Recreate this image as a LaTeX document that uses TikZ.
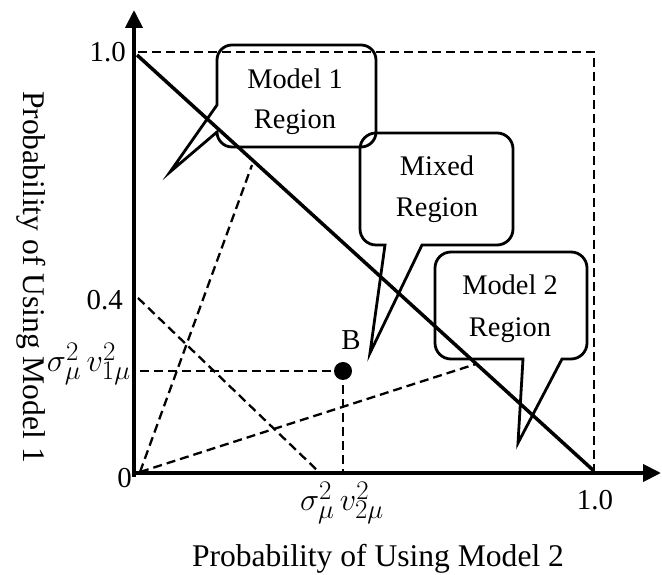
\documentclass[tikz,border=0pt]{standalone}
\usepackage{fontspec}
\setmainfont{Liberation Serif}
\usetikzlibrary{arrows.meta}
\begin{document}
\begin{tikzpicture}[x=1bp,y=1bp,
  axisline/.style={line width=4bp,-{Triangle[length=18bp,width=17bp]}},
  diagline/.style={line width=3.5bp},
  dashline/.style={line width=2.3bp,dash pattern=on 9bp off 5bp},
  bubble/.style={line width=2.8bp,line join=miter},
  ticklab/.style={font=\fontsize{29}{35}\selectfont,inner sep=0pt},
  mathlab/.style={font=\fontsize{24.88}{30}\selectfont,inner sep=0pt,scale=1.3,transform shape},
  bubtext/.style={font=\fontsize{28.5}{34}\selectfont,inner sep=0pt,anchor=base},
  axtitle/.style={font=\fontsize{31.7}{38}\selectfont,inner sep=0pt,anchor=base}]
\useasboundingbox (0,0) rectangle (662,575);

% named points
\coordinate (ybot) at (134,98);
\coordinate (ytop) at (134,565);
\coordinate (xbeg) at (132,102);
\coordinate (xend) at (661,102);
\coordinate (F0) at (140,103);
\coordinate (P1) at (252,410);
\coordinate (P2) at (476,211);
\coordinate (Q1) at (138,277);
\coordinate (Q2) at (320,102);
\coordinate (H0) at (140,204);
\coordinate (B) at (343,204);
\coordinate (Bx) at (343,102);
\coordinate (T0) at (138,523);
\coordinate (T1) at (594,523);
\coordinate (T2) at (594,102);
\coordinate (D0) at (137,520);
\coordinate (D1) at (594,104);

% dashed lines
\draw[dashline] (T0) -- (T1) -- (T2);
\draw[dashline] (F0) -- (P1);
\draw[dashline] (F0) -- (P2);
\draw[dashline] (Q1) -- (Q2);
\draw[dashline] (H0) -- (B);
\draw[dashline] (B) -- (Bx);

% bubbles
\draw[bubble] (217,470) -- (217,515) arc[start angle=180,end angle=90,radius=15]
  -- (361,530) arc[start angle=90,end angle=0,radius=15]
  -- (376,443) arc[start angle=0,end angle=-90,radius=15]
  -- (232,428) arc[start angle=270,end angle=180,radius=15]
  -- (170,403) -- cycle;
\draw[bubble] (385,330) -- (376,330) arc[start angle=270,end angle=180,radius=16]
  -- (360,426) arc[start angle=180,end angle=90,radius=16]
  -- (497,442) arc[start angle=90,end angle=0,radius=16]
  -- (513,346) arc[start angle=0,end angle=-90,radius=16]
  -- (422,330) -- (370,222) -- cycle;
\draw[bubble] (523,216) -- (451,216) arc[start angle=270,end angle=180,radius=16]
  -- (435,307) arc[start angle=180,end angle=90,radius=16]
  -- (571,323) arc[start angle=90,end angle=0,radius=16]
  -- (587,232) arc[start angle=0,end angle=-90,radius=16]
  -- (562,216) -- (518,132) -- cycle;

% diagonal and axes
\draw[diagline] (D0) -- (D1);
\draw[axisline] (ybot) -- (ytop);
\draw[axisline] (xbeg) -- (xend);

% point B
\fill (B) circle[radius=9bp];
\node[ticklab,anchor=base] (Blab) at (351,225) {B};

% tick labels
\node[ticklab,anchor=base east] (y10) at (126,513) {1.0};
\node[ticklab,anchor=base east] (y04) at (123,265) {0.4};
\node[ticklab,anchor=base east] (y0) at (132,87) {0};
\node[mathlab,anchor=base east] (ys) at (131,203) {$\sigma_\mu^2\,v_{1\mu}^2$};
\node[mathlab,anchor=base] (xs) at (342,64) {$\sigma_\mu^2\,v_{2\mu}^2$};
\node[ticklab,anchor=base] (x10) at (595,65) {1.0};

% bubble texts
\node[bubtext] (m1a) at (295,486) {Model 1};
\node[bubtext] (m1b) at (295,446) {Region};
\node[bubtext] (mxa) at (437,399) {Mixed};
\node[bubtext] (mxb) at (437,358) {Region};
\node[bubtext] (m2a) at (510,280) {Model 2};
\node[bubtext] (m2b) at (510,238) {Region};

% axis titles
\node[axtitle] (xt) at (378,8) {Probability of Using Model 2};
\node[axtitle,rotate=-90] (yt) at (23.5,298) {Probability of Using Model 1};
\end{tikzpicture}
\end{document}
